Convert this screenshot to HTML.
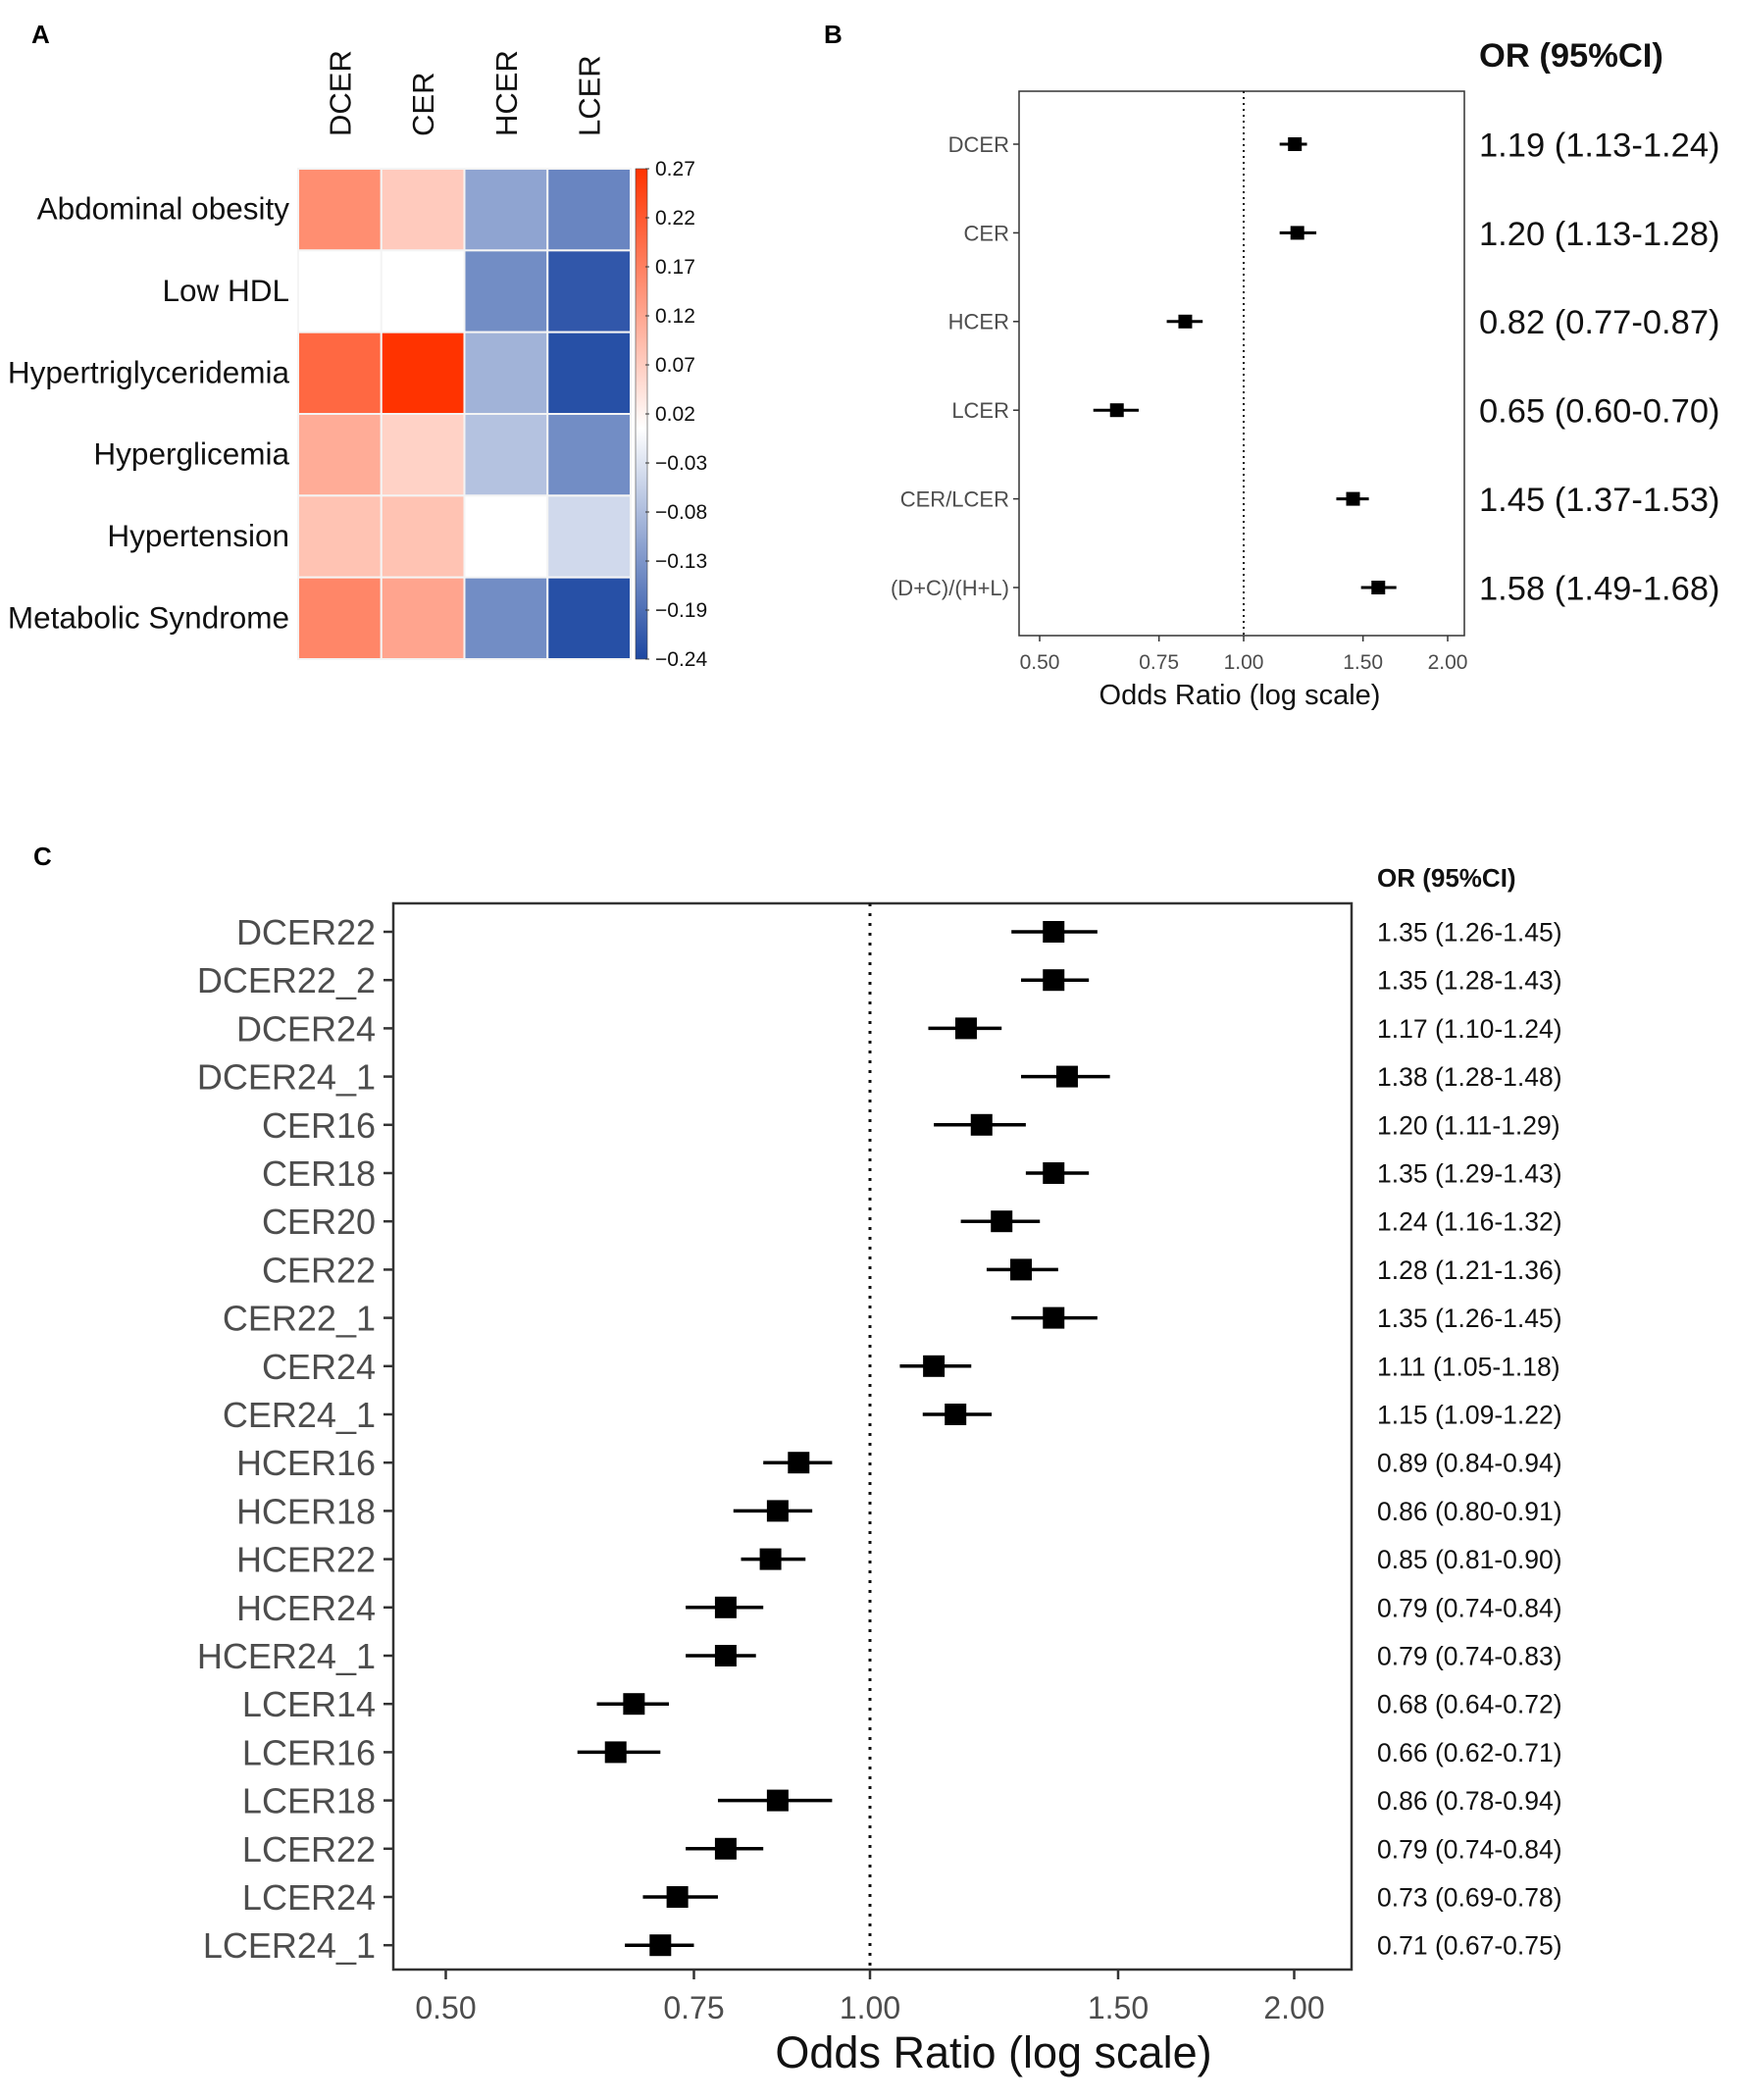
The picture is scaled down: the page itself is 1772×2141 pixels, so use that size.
<!DOCTYPE html>
<html><head><meta charset="utf-8">
<style>
html,body{margin:0;padding:0;background:#fff;}
svg{display:block;font-family:"Liberation Sans",Arial,sans-serif;}
</style></head>
<body>
<svg id="fig" width="1772" height="2141" viewBox="0 0 1772 2141" xmlns="http://www.w3.org/2000/svg">
<rect x="0" y="0" width="1772" height="2141" fill="#fff"/>
<text x="32" y="44" font-size="26" font-weight="bold">A</text>
<text x="840" y="44" font-size="26" font-weight="bold">B</text>
<text x="34" y="882" font-size="26" font-weight="bold">C</text>
<g id="pa"></g>
<g id="pb"></g>
<g id="pc"></g>
</svg>
<script>
// ---------- Panel A data ----------
const hmCols = ["DCER","CER","HCER","LCER"];
const hmRows = ["Abdominal obesity","Low HDL","Hypertriglyceridemia","Hyperglicemia","Hypertension","Metabolic Syndrome"];
const hmVals = [
  [0.15, 0.07, -0.12, -0.16],
  [null, null, -0.15, -0.22],
  [0.20, 0.27, -0.10, -0.23],
  [0.11, 0.06, -0.08, -0.15],
  [0.08, 0.08, null, -0.05],
  [0.16, 0.12, -0.15, -0.23]
];
const cbTicks = ["0.27","0.22","0.17","0.12","0.07","0.02","\u22120.03","\u22120.08","\u22120.13","\u22120.19","\u22120.24"];

// ---------- Panel B data ----------
const bLabels = ["DCER","CER","HCER","LCER","CER/LCER","(D+C)/(H+L)"];
const bOR = [1.19,1.20,0.82,0.65,1.45,1.58];
const bLo = [1.13,1.13,0.77,0.60,1.37,1.49];
const bHi = [1.24,1.28,0.87,0.70,1.53,1.68];
const xTicks = [0.5,0.75,1.0,1.5,2.0];
const xTickLabels = ["0.50","0.75","1.00","1.50","2.00"];

// ---------- Panel C data ----------
const cLabels = ["DCER22","DCER22_2","DCER24","DCER24_1","CER16","CER18","CER20","CER22","CER22_1","CER24","CER24_1","HCER16","HCER18","HCER22","HCER24","HCER24_1","LCER14","LCER16","LCER18","LCER22","LCER24","LCER24_1"];
const cOR = [1.35,1.35,1.17,1.38,1.20,1.35,1.24,1.28,1.35,1.11,1.15,0.89,0.86,0.85,0.79,0.79,0.68,0.66,0.86,0.79,0.73,0.71];
const cLo = [1.26,1.28,1.10,1.28,1.11,1.29,1.16,1.21,1.26,1.05,1.09,0.84,0.80,0.81,0.74,0.74,0.64,0.62,0.78,0.74,0.69,0.67];
const cHi = [1.45,1.43,1.24,1.48,1.29,1.43,1.32,1.36,1.45,1.18,1.22,0.94,0.91,0.90,0.84,0.83,0.72,0.71,0.94,0.84,0.78,0.75];

const NS="http://www.w3.org/2000/svg";
function mk(parent, tag, attrs, txt){
  const e=document.createElementNS(NS,tag);
  for(const k in attrs) e.setAttribute(k,attrs[k]);
  if(txt!==undefined) e.textContent=txt;
  parent.appendChild(e); return e;
}
function fmt(v){return v.toFixed(2);}

// ---------- Panel A ----------
(function(){
  const g=document.getElementById('pa');
  const x0=304,y0=172,cw=(643-304)/4,rh=(672-172)/6;
  const vmax=0.27,vmin=-0.24;
  function color(v){
    if(v===null) return "#ffffff";
    let r,gg,b;
    if(v>=0){const t=Math.min(v/vmax,1); r=255; gg=Math.round(255+(51-255)*t); b=Math.round(255+(0-255)*t);}
    else{const t=Math.min(v/vmin,1); r=Math.round(255+(30-255)*t); gg=Math.round(255+(72-255)*t); b=Math.round(255+(162-255)*t);}
    return `rgb(${r},${gg},${b})`;
  }
  hmRows.forEach((rn,i)=>{
    hmCols.forEach((cn,j)=>{
      const c=mk(g,'rect',{x:x0+j*cw,y:y0+i*rh,width:cw,height:rh,fill:color(hmVals[i][j]),stroke:"#f4f4f4","stroke-width":2});
      
      
    });
    const t=mk(g,'text',{x:295,y:y0+i*rh+rh/2+10,"font-size":31.5,"text-anchor":"end",fill:"#111"},rn);
    
    
  });
  hmCols.forEach((cn,j)=>{
    const cx=x0+j*cw+cw/2+11;
    const t=mk(g,'text',{x:cx,y:139,"font-size":31,"text-anchor":"start",fill:"#111",transform:`rotate(-90 ${cx} 139)`},cn);
    
    
  });
  const defs=mk(g,'defs',{});
  const lg=mk(defs,'linearGradient',{id:'cbg',x1:0,y1:0,x2:0,y2:1});
  mk(lg,'stop',{offset:"0%","stop-color":"rgb(255,51,0)"});
  mk(lg,'stop',{offset:(vmax/(vmax-vmin)*100)+"%","stop-color":"#ffffff"});
  mk(lg,'stop',{offset:"100%","stop-color":"rgb(30,72,162)"});
  const cb=mk(g,'rect',{x:648,y:172,width:12,height:500,fill:"url(#cbg)",stroke:"#444","stroke-width":0.6});
  
  
  cbTicks.forEach((lab,k)=>{
    const y=172+k*50;
    mk(g,'line',{x1:658,x2:662,y1:y,y2:y,stroke:"#333","stroke-width":1});
    const t=mk(g,'text',{x:668,y:y+7,"font-size":21,fill:"#111"},lab);
    
    
  });
})();

// ---------- Forest plot helper ----------
function forest(gid, labels, or, lo, hi, cfg){
  const g=document.getElementById(gid);
  const xs=v=>cfg.x1+Math.log2(v)*cfg.k;
  const box=mk(g,'rect',{x:cfg.L,y:cfg.T,width:cfg.R-cfg.L,height:cfg.B-cfg.T,fill:"none",stroke:"#333","stroke-width":cfg.bw});
  
  
  const ref=mk(g,'line',{x1:xs(1),x2:xs(1),y1:cfg.T,y2:cfg.B,stroke:"#111","stroke-width":cfg.dw,"stroke-dasharray":cfg.dash});
  
  
  xTicks.forEach((v,k)=>{
    const x=xs(v);
    mk(g,'line',{x1:x,x2:x,y1:cfg.B,y2:cfg.B+cfg.tl,stroke:"#333","stroke-width":cfg.bw});
    const t=mk(g,'text',{x:x,y:cfg.tickY,"font-size":cfg.tfs,"text-anchor":"middle",fill:"#4d4d4d"},xTickLabels[k]);
    
    
  });
  const ti=mk(g,'text',{x:cfg.titleX,y:cfg.titleY,"font-size":cfg.titfs,"text-anchor":"middle",fill:"#111"},"Odds Ratio (log scale)");
  
  
  const hd=mk(g,'text',{x:cfg.orX,y:cfg.hdY,"font-size":cfg.hdfs,"font-weight":"bold",fill:"#111"},"OR (95%CI)");
  
  
  labels.forEach((lab,i)=>{
    const y=cfg.y0+i*cfg.dy;
    mk(g,'line',{x1:cfg.L-cfg.tl,x2:cfg.L,y1:y,y2:y,stroke:"#333","stroke-width":cfg.bw});
    const t=mk(g,'text',{x:cfg.L-cfg.tl-cfg.lgap,y:y+cfg.lfs*0.36,"font-size":cfg.lfs,"text-anchor":"end",fill:"#4d4d4d"},lab);
    
    
    const ci=mk(g,'line',{x1:xs(lo[i]),x2:xs(hi[i]),y1:y,y2:y,stroke:"#000","stroke-width":cfg.cw});
    
    
    const s=cfg.sq;
    const p=mk(g,'rect',{x:xs(or[i])-s/2,y:y-s/2,width:s,height:s,fill:"#000"});
    
    
    const vt=mk(g,'text',{x:cfg.orX,y:y+cfg.vfs*0.36,"font-size":cfg.vfs,fill:"#111"},`${fmt(or[i])} (${fmt(lo[i])}-${fmt(hi[i])})`);
    
    
  });
}

forest('pb', bLabels, bOR, bLo, bHi, {
  L:1039,R:1493,T:93,B:648,x1:1268,k:208,bw:1.5,dw:2,dash:"2,4",tl:6,lgap:4,
  tickY:682,tfs:21,titleX:1264,titleY:718,titfs:29,orX:1508,hdY:68,hdfs:34.5,
  y0:147,dy:90.4,lfs:22,cw:3,sq:14,vfs:34.5
});
forest('pc', cLabels, cOR, cLo, cHi, {
  L:401,R:1378,T:921,B:2008,x1:887,k:432.5,bw:2.5,dw:3,dash:"3,7",tl:10,lgap:8,
  tickY:2058,tfs:32,titleX:1013,titleY:2108,titfs:45,orX:1404,hdY:904,hdfs:26,
  y0:950,dy:49.2,lfs:36,cw:3.5,sq:22,vfs:26.5
});
</script>
</body></html>
